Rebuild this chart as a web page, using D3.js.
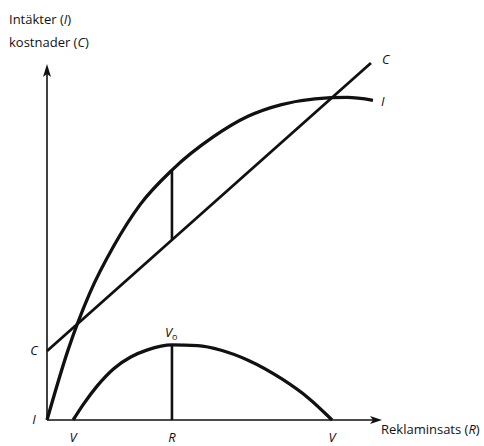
<!DOCTYPE html>
<html>
<head>
<meta charset="utf-8">
<script src="https://cdn.jsdelivr.net/npm/d3@7"></script>
<style>
  body { margin: 0; background: #fff; }
  text { font-family: "Open Sans", "DejaVu Sans", sans-serif; fill: #111; }
</style>
</head>
<body>
<div id="chart"></div>
<script>
// reklaminsats (R) on x, 0..100 abstract units; intäkter/kostnader on y, 0..100
const INCOME = [[0,0],[6.3,19.7],[12.8,35.7],[20,49],[27.8,60.5],[37.3,70.2],[49.6,79.5],
  [60,85.3],[70,88.6],[80,90.2],[89.6,90.6],[97.3,89.8]];
const COST = [[0,19.4],[96.7,100.3]];
const PROFIT = [[7.8,0],[11,4.6],[15,9.6],[20,14.5],[25,17.7],[30,19.7],[37.3,21.1],
  [45,20.9],[52,19.6],[60,16.8],[70,11.6],[78,6.2],[85.1,0]];
const OPTIMUM_R = 37.3;
const X_TICKS = [7.8, 37.3, 85.1];
const X_TICK_LABELS = ["V", "R", "V"];
const Y_TICKS = [0, 19.4];
const Y_TICK_LABELS = ["I", "C"];

var width = 484, height = 446;
var svg = d3.select("#chart").append("svg")
  .attr("width", width).attr("height", height);

var x = d3.scaleLinear().domain([0, 100]).range([47, 382]);
var y = d3.scaleLinear().domain([0, 100]).range([420, 64]);

// axes
svg.append("line").attr("x1", x(0)).attr("x2", x(100) - 4)
  .attr("y1", y(0)).attr("y2", y(0))
  .attr("stroke", "#111").attr("stroke-width", 1.6);
svg.append("line").attr("x1", x(0)).attr("x2", x(0))
  .attr("y1", y(0)).attr("y2", y(100) + 4)
  .attr("stroke", "#111").attr("stroke-width", 1.6);

// arrow heads
var tx = x(100), ty = y(0);
svg.append("path")
  .attr("d", "M" + tx + "," + ty + "L" + (tx - 12) + "," + (ty - 4) + "L" + (tx - 9) + "," + ty + "L" + (tx - 12) + "," + (ty + 4) + "Z")
  .attr("fill", "#111");
var ux = x(0), uy = y(100);
svg.append("path")
  .attr("d", "M" + ux + "," + uy + "L" + (ux - 4) + "," + (uy + 13) + "L" + ux + "," + (uy + 10) + "L" + (ux + 4) + "," + (uy + 13) + "Z")
  .attr("fill", "#111");

var line = d3.line().x(function(d) { return x(d[0]); }).y(function(d) { return y(d[1]); });
var curve = d3.line().curve(d3.curveMonotoneX)
  .x(function(d) { return x(d[0]); }).y(function(d) { return y(d[1]); });

svg.append("path").attr("d", line(COST))
  .attr("fill", "none").attr("stroke", "#111").attr("stroke-width", 2.8);
svg.append("path").attr("d", curve(INCOME))
  .attr("fill", "none").attr("stroke", "#111").attr("stroke-width", 3.3);
svg.append("path").attr("d", curve(PROFIT))
  .attr("fill", "none").attr("stroke", "#111").attr("stroke-width", 3.3);

// vertical markers at the optimum
var costAtR = COST[0][1] + (COST[1][1] - COST[0][1]) * OPTIMUM_R / COST[1][0];
var incomeAtR = INCOME.find(function(d) { return d[0] === OPTIMUM_R; })[1];
var profitAtR = PROFIT.find(function(d) { return d[0] === OPTIMUM_R; })[1];
svg.append("line").attr("x1", x(OPTIMUM_R)).attr("x2", x(OPTIMUM_R))
  .attr("y1", y(costAtR)).attr("y2", y(incomeAtR))
  .attr("stroke", "#111").attr("stroke-width", 2.6);
svg.append("line").attr("x1", x(OPTIMUM_R)).attr("x2", x(OPTIMUM_R))
  .attr("y1", y(0)).attr("y2", y(profitAtR))
  .attr("stroke", "#111").attr("stroke-width", 2.6);

// tick labels
svg.selectAll(".xl").data(X_TICKS).enter().append("text")
  .attr("x", function(d) { return x(d); }).attr("y", 442)
  .attr("text-anchor", "middle").attr("font-size", 13).attr("font-style", "italic")
  .text(function(d, i) { return X_TICK_LABELS[i]; });
svg.selectAll(".yl").data(Y_TICKS).enter().append("text")
  .attr("x", 34).attr("y", function(d) { return y(d) + 4; })
  .attr("text-anchor", "middle").attr("font-size", 13).attr("font-style", "italic")
  .text(function(d, i) { return Y_TICK_LABELS[i]; });

// curve labels
svg.append("text").attr("x", x(COST[1][0]) + 11).attr("y", y(COST[1][1]) + 1)
  .attr("font-size", 13).attr("font-style", "italic").text("C");
svg.append("text").attr("x", x(INCOME[INCOME.length - 1][0]) + 8).attr("y", y(INCOME[INCOME.length - 1][1]) + 6)
  .attr("font-size", 13).attr("font-style", "italic").text("I");
var v0 = svg.append("text").attr("x", x(OPTIMUM_R) - 7).attr("y", y(profitAtR) - 8)
  .attr("font-size", 13).attr("font-style", "italic");
v0.append("tspan").text("V");
v0.append("tspan").attr("font-size", 9).attr("dy", 3).attr("font-style", "normal").text("o");

// axis titles
var t1 = svg.append("text").attr("x", 9).attr("y", 24).attr("font-size", 13);
t1.append("tspan").text("Intäkter (");
t1.append("tspan").attr("font-style", "italic").text("I");
t1.append("tspan").text(")");
var t2 = svg.append("text").attr("x", 9).attr("y", 47).attr("font-size", 13);
t2.append("tspan").text("kostnader (");
t2.append("tspan").attr("font-style", "italic").text("C");
t2.append("tspan").text(")");
var t3 = svg.append("text").attr("x", 381).attr("y", 434).attr("font-size", 13);
t3.append("tspan").text("Reklaminsats (");
t3.append("tspan").attr("font-style", "italic").text("R");
t3.append("tspan").text(")");
</script>
</body>
</html>
